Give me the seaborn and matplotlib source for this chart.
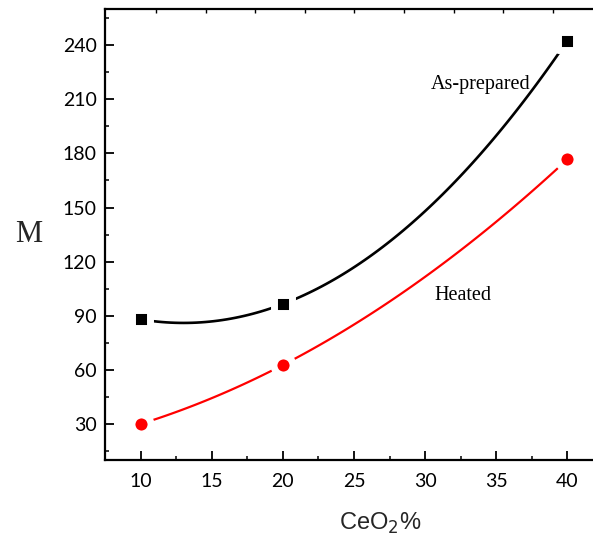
import numpy as np
import matplotlib
matplotlib.use("Agg")
import matplotlib.pyplot as plt
from matplotlib.ticker import MultipleLocator
import seaborn as sns

# data
ceo2 = [10, 20, 40]
as_prepared = [88, 96.5, 242.5]
heated = [30, 62.7, 176.7]

sns.set_style("ticks", {'axes.edgecolor': 'black', 'xtick.color': 'black',
                        'ytick.color': 'black', 'text.color': 'black'})
plt.rcParams['font.family'] = ['Lato', 'DejaVu Sans']

fig = plt.figure(figsize=(5.93, 5.35), dpi=100)
ax = fig.add_axes([0.177, 0.140, 0.823, 0.843])

# smooth curves (2nd order fit through the points)
sns.regplot(x=ceo2, y=as_prepared, order=2, ci=None, scatter=False, truncate=True,
            color='black', line_kws={'lw': 1.9}, ax=ax)
sns.regplot(x=ceo2, y=heated, order=2, ci=None, scatter=False, truncate=True,
            color='red', line_kws={'lw': 1.6}, ax=ax)

# markers with white rim so the curves stop short of them
sns.scatterplot(x=ceo2, y=as_prepared, marker='s', s=150, color='black',
                edgecolor='white', linewidth=5, ax=ax, zorder=5)
sns.scatterplot(x=ceo2, y=heated, marker='o', s=190, color='red',
                edgecolor='white', linewidth=5, ax=ax, zorder=5)

ax.set_xlim(7.5, 41.8)
ax.set_ylim(10, 260)
ax.xaxis.set_major_locator(MultipleLocator(5))
ax.xaxis.set_minor_locator(MultipleLocator(2.5))
ax.yaxis.set_minor_locator(MultipleLocator(15))
ax.set_yticks([30, 60, 90, 120, 150, 180, 210, 240])

ax.tick_params(which='major', direction='in', length=6.5, width=1.3, labelsize=14,
               colors='black', pad=6)
ax.tick_params(axis='x', which='major', pad=9)
ax.tick_params(which='minor', direction='in', length=3, width=1.1, colors='black')

for side in ['left', 'bottom', 'top']:
    ax.spines[side].set_linewidth(1.6)
    ax.spines[side].set_color('black')
    ax.spines[side].set_visible(True)
ax.spines['right'].set_visible(False)

# small ticks along the top spine
top = ax.twiny()
top.set_xlim(-1.03, 8.81)
top.set_xticks(range(9))
top.tick_params(axis='x', direction='in', length=3, width=1.0, colors='black', labeltop=False)
for side in ['left', 'bottom', 'top', 'right']:
    top.spines[side].set_visible(False)

ax.set_xlabel('CeO$_2$%', fontsize=17, family=['Liberation Sans', 'DejaVu Sans'])
ax.xaxis.set_label_coords(0.563, -0.14)
ax.xaxis.label.set_va('center')
ax.set_ylabel('M', fontsize=22, rotation=0, va='center', ha='center',
              family=['Liberation Serif', 'DejaVu Serif'])
ax.yaxis.set_label_coords(-0.157, 0.5)

ax.text(30.4, 215.6, 'As-prepared', fontsize=14.5, family=['Liberation Serif', 'DejaVu Serif'])
ax.text(30.66, 98.7, 'Heated', fontsize=14.5, family=['Liberation Serif', 'DejaVu Serif'])

fig.savefig('out.png', dpi=100)
